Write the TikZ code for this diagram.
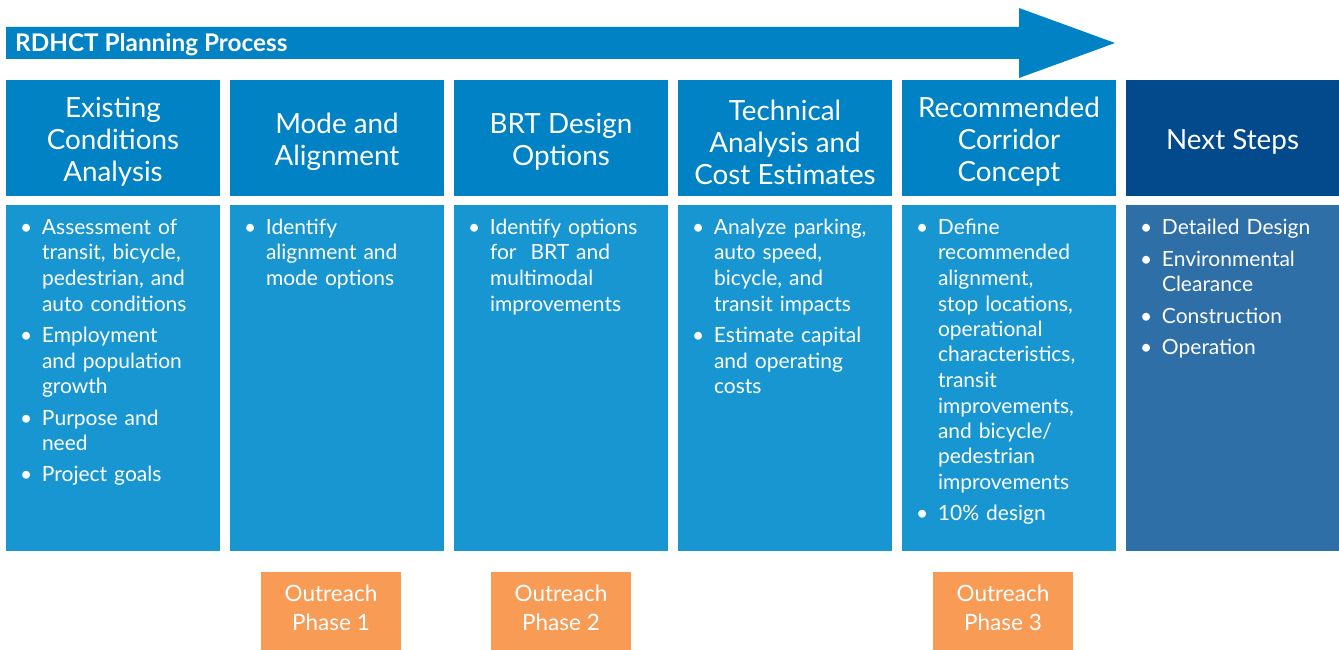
\documentclass[tikz,border=0pt]{standalone}
\usepackage{fontspec}
\setmainfont{Lato}
\usetikzlibrary{calc}
\definecolor{hdrblue}{RGB}{0,130,196}
\definecolor{bodyblue}{RGB}{24,150,210}
\definecolor{navyblue}{RGB}{3,74,140}
\definecolor{steelblue}{RGB}{47,111,168}
\definecolor{outorange}{RGB}{247,155,85}
\newcommand{\bitem}[1]{\par\hangindent=22pt\hangafter=1\noindent\makebox[22pt][l]{\textbullet}\strut#1\par\vspace{6pt}}
\tikzset{
  hdr/.style={fill=hdrblue, inner sep=0pt, minimum width=214pt, minimum height=116pt},
  hdrtext/.style={text=white, inner sep=0pt, align=center, font=\fontsize{27.8}{32}\selectfont},
  bodybox/.style={fill=bodyblue, inner sep=0pt, minimum width=214pt, minimum height=346pt},
  bodytext/.style={text=white, inner sep=0pt, anchor=north west, text width=190pt, align=left, font=\fontsize{21}{25.5}\selectfont},
  outbox/.style={fill=outorange, inner sep=0pt, minimum width=140pt, minimum height=78pt},
  outtext/.style={text=white, inner sep=0pt, align=center, font=\fontsize{22.5}{29}\selectfont},
}
\begin{document}
\begin{tikzpicture}[x=1pt,y=-1pt]
\useasboundingbox (0,0) rectangle (1339,650);
% big arrow
\fill[hdrblue] (6,27) -- (1019,27) -- (1019,8) -- (1115,43) -- (1019,78) -- (1019,59) -- (6,59) -- cycle;
\node[anchor=west, text=white, inner sep=0pt, font=\fontsize{24.3}{27}\selectfont\bfseries] (title) at (15,45) {RDHCT Planning Process};
% headers
\node[hdr] (h1) at (113,138) {};
\node[hdr] (h2) at (337,138) {};
\node[hdr] (h3) at (561,138) {};
\node[hdr] (h4) at (785,138) {};
\node[hdr] (h5) at (1009,138) {};
\node[hdr, fill=navyblue, minimum width=213pt] (h6) at (1232.5,138) {};
\node[hdrtext] (h1t) at ($(h1)+(0,4)$) {Existing\\Conditions\\Analysis};
\node[hdrtext] (h2t) at ($(h2)+(0,4)$) {Mode and\\Alignment};
\node[hdrtext] (h3t) at ($(h3)+(0,4)$) {BRT Design\\Options};
\node[hdrtext] (h4t) at ($(h4)+(0,4)$) {Technical\\Analysis and\\Cost Estimates};
\node[hdrtext] (h5t) at ($(h5)+(0,4)$) {Recommended\\Corridor\\Concept};
\node[hdrtext] (h6t) at ($(h6)+(0,4)$) {Next Steps};
% bodies
\node[bodybox] (b1) at (113,378) {};
\node[bodybox] (b2) at (337,378) {};
\node[bodybox] (b3) at (561,378) {};
\node[bodybox] (b4) at (785,378) {};
\node[bodybox] (b5) at (1009,378) {};
\node[bodybox, fill=steelblue, minimum width=213pt] (b6) at (1232.5,378) {};
% body texts
\node[bodytext] (t1) at ($(b1.north west)+(14,4)$) {%
\bitem{Assessment of\newline transit, bicycle,\newline pedestrian, and\newline auto conditions}%
\bitem{Employment\newline and population\newline growth}%
\bitem{Purpose and\newline need}%
\bitem{Project goals}};
\node[bodytext] (t2) at ($(b2.north west)+(14,4)$) {%
\bitem{Identify\newline alignment and\newline mode options}};
\node[bodytext] (t3) at ($(b3.north west)+(14,4)$) {%
\bitem{Identify options\newline for\ \ BRT and\newline multimodal\newline improvements}};
\node[bodytext] (t4) at ($(b4.north west)+(14,4)$) {%
\bitem{Analyze parking,\newline auto speed,\newline bicycle, and\newline transit impacts}%
\bitem{Estimate capital\newline and operating\newline costs}};
\node[bodytext] (t5) at ($(b5.north west)+(14,4)$) {%
\bitem{Define\newline recommended\newline alignment,\newline stop locations,\newline operational\newline characteristics,\newline transit\newline improvements,\newline and bicycle/\newline pedestrian\newline improvements}%
\bitem{10\% design}};
\node[bodytext] (t6) at ($(b6.north west)+(14,4)$) {%
\bitem{Detailed Design}%
\bitem{Environmental\newline Clearance}%
\bitem{Construction}%
\bitem{Operation}};
% outreach
\node[outbox] (o1) at (331,611) {};
\node[outbox] (o2) at (561,611) {};
\node[outbox] (o3) at (1003,611) {};
\node[outtext] (o1t) at ($(o1)+(0,-3)$) {Outreach\\Phase 1};
\node[outtext] (o2t) at ($(o2)+(0,-3)$) {Outreach\\Phase 2};
\node[outtext] (o3t) at ($(o3)+(0,-3)$) {Outreach\\Phase 3};
\end{tikzpicture}
\end{document}
